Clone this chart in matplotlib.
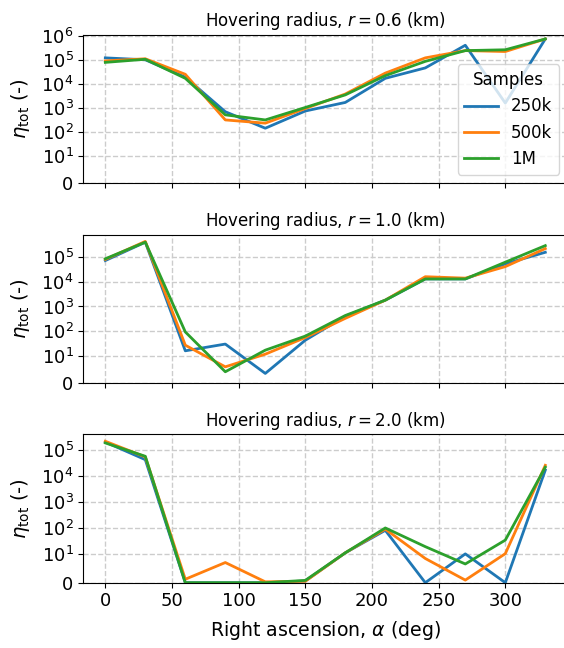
import matplotlib
matplotlib.use("Agg")
import matplotlib.pyplot as plt
from matplotlib.ticker import NullLocator

plt.rcParams['font.size'] = 12

# Right ascension grid (deg)
alpha = [0, 30, 60, 90, 120, 150, 180, 210, 240, 270, 300, 330]
sample_labels = ["250k", "500k", "1M"]
radii = [0.6, 1.0, 2.0]

# eta_tot for r = 0.6 km
eta_r06_250k = [1.2e5, 1.0e5, 1.9e4, 700, 145, 750, 1.7e3, 1.7e4, 4.6e4, 4.0e5, 1.6e3, 7.3e5]
eta_r06_500k = [9.0e4, 1.1e5, 2.5e4, 320, 235, 950, 3.8e3, 2.8e4, 1.2e5, 2.4e5, 2.2e5, 7.3e5]
eta_r06_1M = [7.8e4, 1.05e5, 1.7e4, 520, 320, 1050, 3.5e3, 2.2e4, 8.6e4, 2.4e5, 2.6e5, 7.3e5]

# eta_tot for r = 1.0 km
eta_r10_250k = [7.2e4, 4.0e5, 16, 30, 3.6, 43, 400, 1.8e3, 1.3e4, 1.3e4, 5.3e4, 1.56e5]
eta_r10_500k = [8.0e4, 4.3e5, 27, 6.0, 11.7, 55, 330, 1.8e3, 1.6e4, 1.4e4, 4.1e4, 2.2e5]
eta_r10_1M = [8.5e4, 4.0e5, 93, 4.2, 17, 63, 430, 1.8e3, 1.3e4, 1.3e4, 6.2e4, 2.9e5]

# eta_tot for r = 2.0 km
eta_r20_250k = [2.05e5, 4.3e4, 0, 0, 0, 0.6, 11, 81, 0, 10, 0, 1.7e4]
eta_r20_500k = [2.2e5, 5.5e4, 1.2, 7.0, 0.3, 0.5, 11, 90, 8.4, 0.9, 10.2, 2.6e4]
eta_r20_1M = [1.9e5, 5.8e4, 0, 0, 0, 0.8, 11, 100, 19, 6.5, 34, 2.2e4]

results = [
    [eta_r06_250k, eta_r06_500k, eta_r06_1M],
    [eta_r10_250k, eta_r10_500k, eta_r10_1M],
    [eta_r20_250k, eta_r20_500k, eta_r20_1M],
]

fig = plt.figure(figsize=(5.64, 6.48), dpi=100)
W, H = 564.0, 648.0
left, right = 83.3 / W, 567.3 / W
bottoms = [465.0, 264.7, 65.3]
height = 148.5

axes = []
for b in bottoms:
    ax = fig.add_axes([left, b / H, right - left, height / H],
                      sharex=axes[0] if axes else None)
    axes.append(ax)

for ax, r, series in zip(axes, radii, results):
    for lab, vals in zip(sample_labels, series):
        ax.plot(alpha, vals, label=lab, lw=2)
    ax.set_yscale('symlog', linthresh=10)
    ax.set_ylim(bottom=0)
    ax.set_title(f"Hovering radius, $r = {r:.1f}$ (km)", fontsize=12)
    ax.set_ylabel(r"$\eta_\mathrm{tot}$ (-)", fontsize=14, labelpad=7)
    ax.grid(True, linestyle='--', color='#cccccc', linewidth=1)
    ax.set_axisbelow(True)
    ax.tick_params(labelsize=13)

# decade ticks only, starting at 0 then 10^1
for ax in axes:
    ymax = ax.get_ylim()[1]
    ax.set_yticks([0] + [10 ** k for k in range(1, 7) if 10 ** k <= ymax * 1.01])
    ax.yaxis.set_minor_locator(NullLocator())

for ax in axes[:-1]:
    ax.tick_params(labelbottom=False)

axes[-1].set_xticks([0, 50, 100, 150, 200, 250, 300])
axes[-1].set_xlabel(r"Right ascension, $\alpha$ (deg)", fontsize=13.6, labelpad=6)
axes[0].legend(title="Samples", loc='lower right', fontsize=12, title_fontsize=12)

fig.savefig("out.png", dpi=100)
